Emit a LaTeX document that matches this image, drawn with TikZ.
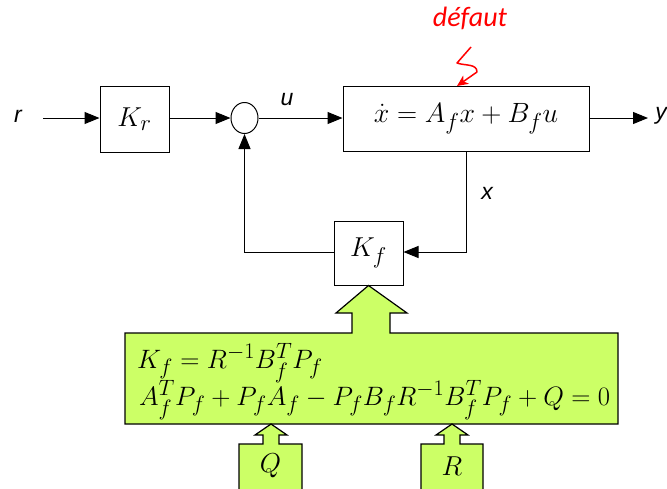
\documentclass[tikz,border=0pt]{standalone}
\usepackage{graphicx}
\usepackage{fontspec}
\usepackage{amsmath}
\newfontfamily\lblfont{Liberation Sans}
\newfontfamily\defautfont{Carlito}
\usetikzlibrary{arrows.meta,shapes.geometric}
\definecolor{lime}{HTML}{CCFF66}
\newcommand\scm[2][1.1]{\scalebox{#1}{\fontsize{24.88}{28}\selectfont$#2$}}
\begin{document}
\begin{tikzpicture}[x=1pt,y=-1pt,
  blk/.style={draw,line width=1pt,inner sep=0pt},
  sig/.style={line width=1pt,-{Triangle[length=15pt,width=12pt]}},
  lbl/.style={font=\lblfont\itshape\fontsize{23}{26}\selectfont},
  mth/.style={inner sep=0pt},
  fat/.style={draw,line width=1.2pt,fill=lime,line join=miter}]
\useasboundingbox (0,0) rectangle (667,488);
% blocks
\node[blk,minimum width=69pt,minimum height=66pt] (kr) at (134.5,119) {\scm{K_r}};
\node[draw,line width=1pt,ellipse,minimum width=27pt,minimum height=31pt,inner sep=0pt] (sum) at (244.5,118) {};
\node[blk,minimum width=246pt,minimum height=65pt] (plant) at (466,118.5) {\scm[1.12]{\dot{x} = A_f x + B_f u}};
\node[blk,minimum width=69pt,minimum height=64pt] (kf) at (368.5,253) {\scm{K_f}};
% labels
\node[lbl] (r) at (18,116) {r};
\node[lbl] (u) at (287,100) {u};
\node[lbl] (y) at (661,116) {y};
\node[lbl] (x) at (487,193) {x};
\node[font=\defautfont\itshape\fontsize{28}{30}\selectfont,text=red] (def) at (470,18) {défaut};
\coordinate (rin) at (43,118);
\coordinate (yout) at (648,118);
% connectors
\draw[sig] (rin) -- (kr.west |- rin);
\draw[sig] (kr.east |- sum.west) -- (sum.west);
\draw[sig] (sum.east) -- (plant.west |- sum.east);
\draw[sig] (plant.east |- yout) -- (yout);
\coordinate (xt) at (466,151);
\coordinate (xc) at (466,252);
\draw[sig] (plant.south -| xt) -- (xc) -- (kf.east |- xc);
\coordinate (fc) at (244.5,252);
\draw[sig] (kf.west |- fc) -- (fc) -- (sum.south);
% fault arrow
\coordinate (f0) at (471,47);
\coordinate (f1) at (457,63);
\coordinate (f2) at (477,72);
\coordinate (ft) at (457,86);
\draw[red,line width=1.5pt,line join=round,-{Stealth[length=11pt,width=10pt,inset=3pt]}] (f0) -- (f1) to[out=-20,in=90] (f2) -- (ft);
% green box with arrow to Kf
\draw[fat] (125,333) -- (352,333) -- (352,313) -- (336,313) -- (kf.south) -- (407,313) -- (390,313) -- (390,333) -- (618,333) -- (618,424) -- (125,424) -- cycle;
\node[mth,anchor=base west] (eq1) at (137,368) {\scm[1.07]{K_f = R^{-1}B_f^T P_f}};
\node[mth,anchor=base west] (eq2) at (139,405) {\scm[1.07]{A_f^T P_f + P_f A_f - P_f B_f R^{-1} B_f^T P_f + Q = 0}};
% Q and R inputs
\draw[fat] (239,490) -- (239,444) -- (263,444) -- (263,435) -- (255,435) -- (271,424) -- (287,435) -- (279,435) -- (279,444) -- (302,444) -- (302,490);
\node[mth] (q) at (270.5,466) {\scm{Q}};
\draw[fat] (421,490) -- (421,444) -- (444,444) -- (444,435) -- (436,435) -- (452,424) -- (468,435) -- (460,435) -- (460,444) -- (483,444) -- (483,490);
\node[mth] (rr) at (452,466) {\scm{R}};
\end{tikzpicture}
\end{document}
